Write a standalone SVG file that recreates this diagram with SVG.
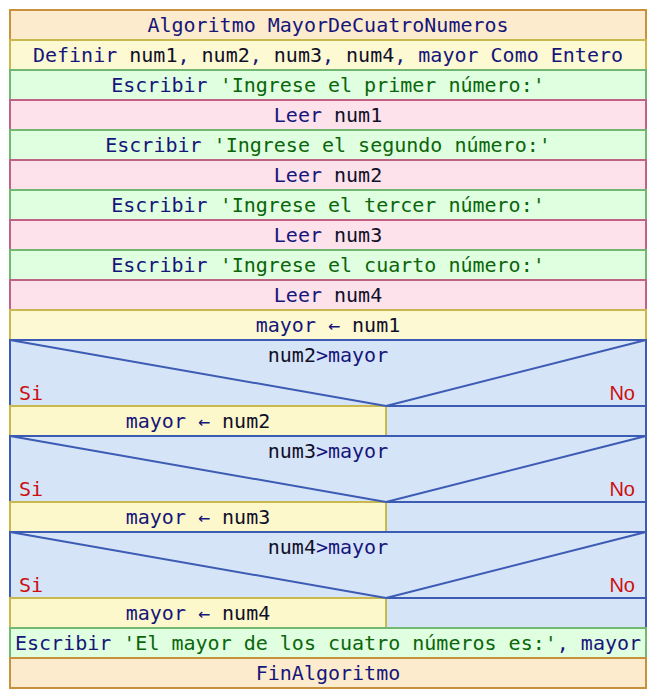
<svg xmlns="http://www.w3.org/2000/svg" width="656" height="698" viewBox="0 0 656 698">
<style>
text{font-family:"DejaVu Sans Mono","Liberation Mono",monospace;font-size:20px;fill:#16167a;text-anchor:middle}
.s{fill:#0a660a}
.v{fill:#101028}
.si{fill:#cc1010;text-anchor:start}
.no{fill:#cc1010;text-anchor:end;font-family:"Liberation Sans",Arial,sans-serif}
.t rect{fill:#fdebcd;stroke:#c8913e;stroke-width:2}
.d rect{fill:#fdf9d2;stroke:#c9b84e;stroke-width:2}
.e rect{fill:#e0fee0;stroke:#72b872;stroke-width:2}
.l rect{fill:#fde1eb;stroke:#c06283;stroke-width:2}
.c rect{fill:#d6e4f8;stroke:#3c5cb4;stroke-width:2}
.c line{stroke:#3c5cb4;stroke-width:2}
.a rect{fill:#fdf8cc;stroke:#c9b84e;stroke-width:2}
</style>
<rect width="656" height="698" fill="#ffffff"/>
<g id="n0" class="t"><rect x="10" y="10" width="636" height="30"/><text x="328" y="32">Algoritmo MayorDeCuatroNumeros</text></g>
<g id="n1" class="d"><rect x="10" y="40" width="636" height="30"/><text x="328" y="62">Definir <tspan class="v">num1</tspan>, <tspan class="v">num2</tspan>, <tspan class="v">num3</tspan>, <tspan class="v">num4</tspan>, mayor Como Entero</text></g>
<g id="n2" class="e"><rect x="10" y="70" width="636" height="30"/><text x="328" y="92">Escribir <tspan class="s">'Ingrese el primer número:'</tspan></text></g>
<g id="n3" class="l"><rect x="10" y="100" width="636" height="30"/><text x="328" y="122">Leer <tspan class="v">num1</tspan></text></g>
<g id="n4" class="e"><rect x="10" y="130" width="636" height="30"/><text x="328" y="152">Escribir <tspan class="s">'Ingrese el segundo número:'</tspan></text></g>
<g id="n5" class="l"><rect x="10" y="160" width="636" height="30"/><text x="328" y="182">Leer <tspan class="v">num2</tspan></text></g>
<g id="n6" class="e"><rect x="10" y="190" width="636" height="30"/><text x="328" y="212">Escribir <tspan class="s">'Ingrese el tercer número:'</tspan></text></g>
<g id="n7" class="l"><rect x="10" y="220" width="636" height="30"/><text x="328" y="242">Leer <tspan class="v">num3</tspan></text></g>
<g id="n8" class="e"><rect x="10" y="250" width="636" height="30"/><text x="328" y="272">Escribir <tspan class="s">'Ingrese el cuarto número:'</tspan></text></g>
<g id="n9" class="l"><rect x="10" y="280" width="636" height="30"/><text x="328" y="302">Leer <tspan class="v">num4</tspan></text></g>
<g id="n10" class="d"><rect x="10" y="310" width="636" height="30"/><text x="328" y="332">mayor ← <tspan class="v">num1</tspan></text></g>

<g id="n11" class="c"><rect x="10" y="340" width="636" height="96"/><rect x="386" y="406" width="260" height="30"/><text x="328" y="362"><tspan class="v">num2</tspan>&gt;mayor</text><text class="si" x="19" y="400">Si</text><text class="no" x="635" y="400">No</text></g>
<g id="n12" class="a"><rect x="10" y="406" width="376" height="30"/><text x="198" y="428">mayor ← <tspan class="v">num2</tspan></text></g>

<g id="n13" class="c"><rect x="10" y="436" width="636" height="96"/><rect x="386" y="502" width="260" height="30"/><text x="328" y="458"><tspan class="v">num3</tspan>&gt;mayor</text><text class="si" x="19" y="496">Si</text><text class="no" x="635" y="496">No</text></g>
<g id="n14" class="a"><rect x="10" y="502" width="376" height="30"/><text x="198" y="524">mayor ← <tspan class="v">num3</tspan></text></g>

<g id="n15" class="c"><rect x="10" y="532" width="636" height="96"/><rect x="386" y="598" width="260" height="30"/><text x="328" y="554"><tspan class="v">num4</tspan>&gt;mayor</text><text class="si" x="19" y="592">Si</text><text class="no" x="635" y="592">No</text></g>
<g id="n16" class="a"><rect x="10" y="598" width="376" height="30"/><text x="198" y="620">mayor ← <tspan class="v">num4</tspan></text></g>

<g id="n17" class="e"><rect x="10" y="628" width="636" height="30"/><text x="328" y="650">Escribir <tspan class="s">'El mayor de los cuatro números es:'</tspan>, mayor</text></g>
<g id="n18" class="t"><rect x="10" y="658" width="636" height="30"/><text x="328" y="680">FinAlgoritmo</text></g>

<g id="connectors" class="c">
<line x1="10" y1="340" x2="386" y2="406"/><line x1="646" y1="340" x2="386" y2="406"/>
<line x1="10" y1="436" x2="386" y2="502"/><line x1="646" y1="436" x2="386" y2="502"/>
<line x1="10" y1="532" x2="386" y2="598"/><line x1="646" y1="532" x2="386" y2="598"/>
</g>
</svg>
